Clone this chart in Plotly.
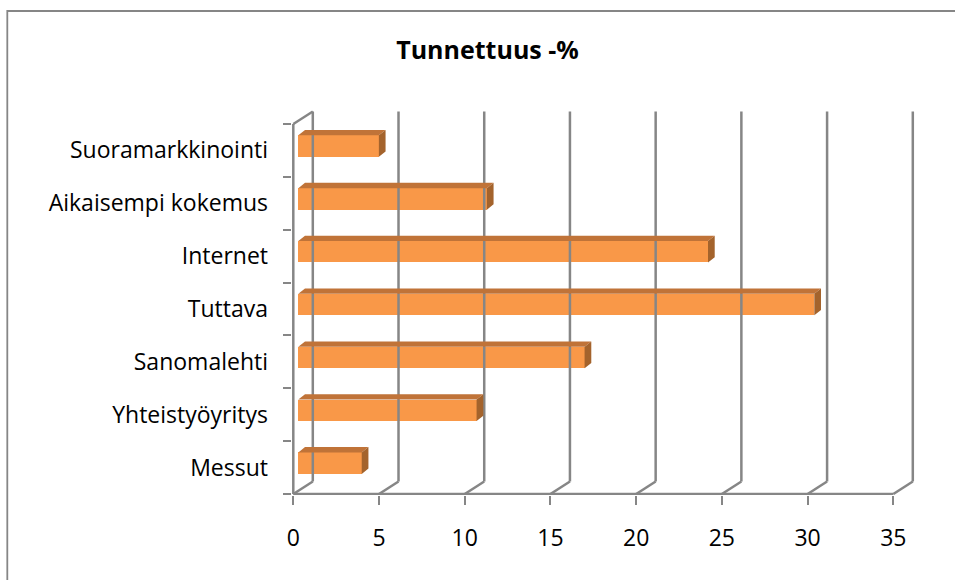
import plotly.graph_objects as go

# ---- data ----
categories = ["Messut", "Yhteistyöyritys", "Sanomalehti", "Tuttava",
              "Internet", "Aikaisempi kokemus", "Suoramarkkinointi"]
values = [3.7, 10.4, 16.7, 30.1, 23.9, 11.0, 4.7]
x_ticks = [0, 5, 10, 15, 20, 25, 30, 35]
title_text = "Tunnettuus -%"

# ---- pseudo-3D geometry (in data units) ----
PX_X = 600 / 35.0          # pixels per value unit
PX_Y = 370 / 7.0           # pixels per category unit
wall_dx = 19.5 / PX_X      # back-wall offset
wall_dy = 12.5 / PX_Y
bar_x0 = 5.0 / PX_X        # bar front face start
bar_lift = 4.4 / PX_Y      # bar front face vertical lift
bar_h = 21.5 / PX_Y        # bar thickness
bar_dx = 6.7 / PX_X        # bar depth offset
bar_dy = 5.3 / PX_Y

GRID = "#868686"
FRONT = "#F99848"
TOP = "#C07338"
SIDE = "#A4632C"
FONT = "Open Sans"

n = len(categories)
fig = go.Figure()

# back-wall gridlines + floor obliques
gx, gy = [], []
for t in x_ticks:
    gx += [t + wall_dx, t + wall_dx, None]
    gy += [wall_dy, n + wall_dy, None]
    gx += [t, t + wall_dx, None]
    gy += [0, wall_dy, None]
# left wall front edge and top oblique
gx += [0, 0, None, 0, wall_dx, None]
gy += [0, n, None, n, n + wall_dy, None]
# floor front edge
gx += [x_ticks[0], x_ticks[-1], None]
gy += [0, 0, None]
fig.add_trace(go.Scatter(x=gx, y=gy, mode="lines",
                         line=dict(color=GRID, width=2.5),
                         hoverinfo="skip", showlegend=False))

# bars: front face
centers = [i + 0.5 + bar_lift for i in range(n)]
fig.add_trace(go.Bar(y=centers, x=values, base=bar_x0, orientation="h",
                     width=bar_h, marker=dict(color=FRONT, line=dict(width=0)),
                     showlegend=False, hoverinfo="skip"))

# bars: top and side faces
tx, ty, sx, sy = [], [], [], []
for c, v in zip(centers, values):
    yt = c + bar_h / 2
    yb = c - bar_h / 2
    x1 = bar_x0 + v
    tx += [bar_x0, x1, x1 + bar_dx, bar_x0 + bar_dx, bar_x0, None]
    ty += [yt, yt, yt + bar_dy, yt + bar_dy, yt, None]
    sx += [x1, x1, x1 + bar_dx, x1 + bar_dx, x1, None]
    sy += [yb, yt, yt + bar_dy, yb + bar_dy, yb, None]
fig.add_trace(go.Scatter(x=tx, y=ty, mode="lines", fill="toself",
                         fillcolor=TOP, line=dict(width=0, color=TOP),
                         hoverinfo="skip", showlegend=False))
fig.add_trace(go.Scatter(x=sx, y=sy, mode="lines", fill="toself",
                         fillcolor=SIDE, line=dict(width=0, color=SIDE),
                         hoverinfo="skip", showlegend=False))

L, R, T, B = 292, 36, 105, 85
W, H = 955, 580
x_lo = (L - 293.3) / PX_X
x_hi = (W - R - 293.3) / PX_X
y_lo = (494 - (H - B)) / PX_Y
y_hi = (494 - T) / PX_Y

fig.update_layout(
    width=W, height=H,
    margin=dict(l=L, r=R, t=T, b=B, pad=0),
    paper_bgcolor="white", plot_bgcolor="white",
    bargap=0,
    font=dict(family=FONT, size=23, color="black"),
    title=dict(text="<b>" + title_text + "</b>", x=487.5 / W, xanchor="center",
               y=1 - 50 / H, yanchor="middle", yref="container", xref="container",
               font=dict(family=FONT, size=25, color="black")),
    xaxis=dict(range=[x_lo, x_hi], tickvals=x_ticks, ticktext=[str(t) for t in x_ticks],
               ticks="outside", ticklen=9, tickwidth=2, tickcolor=GRID,
               showgrid=False, zeroline=False, showline=False,
               ticklabelstandoff=13, fixedrange=True),
    yaxis=dict(range=[y_lo, y_hi], tickvals=[i + 0.5 for i in range(n)],
               ticktext=categories, ticks="", showgrid=False, zeroline=False,
               showline=False, ticklabelstandoff=23, fixedrange=True,
               minor=dict(tickvals=list(range(n + 1)), ticks="outside", ticklen=8,
                          tickwidth=2, tickcolor=GRID, showgrid=False)),
    shapes=[dict(type="rect", xref="paper", yref="paper",
                 x0=(7.3 - L) / (W - L - R), x1=(W + 10 - L) / (W - L - R),
                 y0=(H - B - (H + 10)) / (H - T - B), y1=(H - B - 11) / (H - T - B),
                 line=dict(color=GRID, width=1.8), fillcolor="rgba(0,0,0,0)",
                 layer="below")],
)

fig.write_html(
    "out.html",
    config={"displayModeBar": False},
    post_script="document.body.style.margin='0';document.body.style.overflow='hidden';",
)
